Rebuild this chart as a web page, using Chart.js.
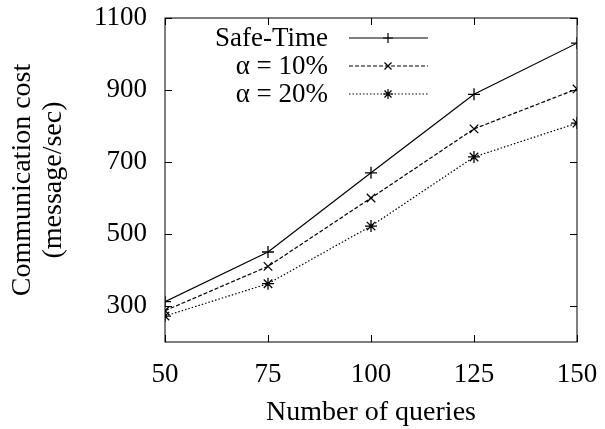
<!DOCTYPE html>
<html>
<head>
<meta charset="utf-8">
<script src="https://cdn.jsdelivr.net/npm/chart.js@4.4.0/dist/chart.umd.min.js"></script>
<style>
  html, body { margin: 0; padding: 0; background: #fff; }
  #wrap { width: 605px; height: 429px; }
</style>
</head>
<body>
<div id="wrap"><canvas id="chart"></canvas></div>
<script>
// Data
const queries = [50, 75, 100, 125, 150];
const safeTime = [312, 450, 670, 888, 1030];
const alpha10 = [287, 410, 600, 792, 903];
const alpha20 = [272, 362, 522, 714, 808];
const xTicks = [50, 75, 100, 125, 150];
const yTicks = [300, 500, 700, 900, 1100];
const seriesNames = ["Safe-Time", "α = 10%", "α = 20%"];

const FONT = "'Liberation Serif', 'Times New Roman', serif";

function toPoints(values) {
    return values.map((v, i) => ({ x: queries[i], y: v }));
}

// drop the automatic label-overflow padding so the plot box sits where we want
function noOverflow(axis) {
    axis.paddingTop = 0;
    axis.paddingBottom = 0;
    axis.paddingLeft = 0;
    axis.paddingRight = 0;
}

// Inside tick marks on all four sides + legend drawn gnuplot style
const gnuplotExtras = {
    id: "gnuplotExtras",
    afterDraw(chart) {
        const ctx = chart.ctx;
        const area = chart.chartArea;
        const xs = chart.scales.x;
        const ys = chart.scales.y;
        const len = 7;

        ctx.save();
        ctx.strokeStyle = "#000";
        ctx.lineWidth = 1;
        ctx.strokeRect(area.left, area.top, area.right - area.left, area.bottom - area.top);

        ctx.beginPath();
        xTicks.forEach(t => {
            const px = Math.round(xs.getPixelForValue(t)) + 0.5;
            ctx.moveTo(px, area.bottom);
            ctx.lineTo(px, area.bottom - len);
            ctx.moveTo(px, area.top);
            ctx.lineTo(px, area.top + len);
        });
        yTicks.forEach(t => {
            const py = Math.round(ys.getPixelForValue(t)) + 0.5;
            ctx.moveTo(area.left, py);
            ctx.lineTo(area.left + len, py);
            ctx.moveTo(area.right, py);
            ctx.lineTo(area.right - len, py);
        });
        ctx.stroke();

        // legend
        ctx.font = "27px " + FONT;
        ctx.fillStyle = "#000";
        ctx.textAlign = "right";
        ctx.textBaseline = "middle";
        chart.data.datasets.forEach((ds, i) => {
            const y = 38 + i * 28;
            ctx.fillText(ds.label, 328, y + 1);
            ctx.beginPath();
            ctx.setLineDash(ds.borderDash || []);
            ctx.lineWidth = ds.borderWidth;
            ctx.moveTo(349, y);
            ctx.lineTo(428, y);
            ctx.stroke();
            ctx.setLineDash([]);
            Chart.helpers.drawPoint(ctx, {
                pointStyle: ds.pointStyle,
                radius: 5,
                borderWidth: 1
            }, 388, y);
        });
        ctx.restore();
    }
};

const styles = [
    { dash: [], point: "cross" },
    { dash: [4, 2], point: "crossRot" },
    { dash: [1.5, 2], point: "star" }
];

const datasets = [safeTime, alpha10, alpha20].map((values, i) => ({
    label: seriesNames[i],
    data: toPoints(values),
    borderColor: "#000",
    backgroundColor: "#000",
    borderWidth: 1.2,
    borderDash: styles[i].dash,
    pointStyle: styles[i].point,
    pointRadius: 6,
    pointBorderWidth: 1.3,
    pointBorderColor: "#000",
    tension: 0,
    fill: false
}));

new Chart(document.getElementById("chart"), {
    type: "line",
    data: { datasets: datasets },
    options: {
        responsive: true,
        maintainAspectRatio: false,
        animation: false,
        layout: { padding: { top: 18, right: 28, left: 0, bottom: 0 } },
        plugins: {
            legend: { display: false },
            tooltip: { enabled: false }
        },
        scales: {
            x: {
                type: "linear",
                min: 50,
                max: 150,
                afterBuildTicks: axis => { axis.ticks = xTicks.map(v => ({ value: v })); },
                afterFit: axis => { axis.height = 87; noOverflow(axis); },
                grid: { display: false, drawTicks: false },
                border: { display: false },
                ticks: {
                    padding: 17,
                    color: "#000",
                    callback: v => String(v),
                    font: { family: FONT, size: 27 }
                },
                title: {
                    display: true,
                    text: "Number of queries",
                    color: "#000",
                    padding: { top: 0, bottom: 0 },
                    font: { family: FONT, size: 28 }
                }
            },
            y: {
                min: 200,
                max: 1100,
                afterBuildTicks: axis => { axis.ticks = yTicks.map(v => ({ value: v })); },
                afterFit: axis => { axis.width = 165; noOverflow(axis); },
                grid: { display: false, drawTicks: false },
                border: { display: false },
                ticks: {
                    padding: 18,
                    color: "#000",
                    callback: v => String(v),
                    font: { family: FONT, size: 27 }
                },
                title: {
                    display: true,
                    text: ["Communication cost", "(message/sec)"],
                    color: "#000",
                    padding: { top: 8, bottom: 0 },
                    font: { family: FONT, size: 28, lineHeight: 1.08 }
                }
            }
        }
    },
    plugins: [gnuplotExtras]
});
</script>
</body>
</html>
